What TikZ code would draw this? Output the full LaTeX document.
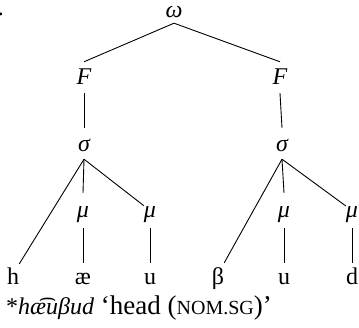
\documentclass[tikz,border=0pt]{standalone}
\usepackage{fontspec}
\setmainfont{Liberation Serif}
\newcommand{\mysc}[1]{{\fontsize{20}{22}\selectfont #1}}
\begin{document}
\begin{tikzpicture}[x=1pt,y=-1pt,
  every node/.style={inner sep=0pt, font=\fontsize{24}{28}\selectfont},
  wlab/.style={text height=12pt, text depth=5pt, anchor=base},
  flab/.style={text height=23pt, text depth=8pt, anchor=base},
  slab/.style={text height=24pt, text depth=7pt, anchor=base},
  mlab/.style={text height=25pt, text depth=10pt, anchor=base},
  seg/.style={text height=22pt, text depth=0pt, anchor=base},
  edge/.style={draw=black, line width=0.9pt}]
\useasboundingbox (0,0) rectangle (359,328);
\node[anchor=base] (dot) at (1,16) {.};
\node[wlab] (w) at (174,18) {\itshape ω};
\node[flab] (fl) at (84,85) {\itshape F};
\node[flab] (fr) at (280,85) {\itshape F};
\node[slab] (sl) at (84,152) {\itshape σ};
\node[slab] (sr) at (282,152) {\itshape σ};
\node[mlab] (m1) at (83,218) {\itshape μ};
\node[mlab] (m2) at (150,218) {\itshape μ};
\node[mlab] (m3) at (284,218) {\itshape μ};
\node[mlab] (m4) at (352,218) {\itshape μ};
\node[seg] (h) at (13,285) {h};
\node[seg] (ae) at (83,285) {æ};
\node[seg] (u1) at (150,285) {u};
\node[seg] (b) at (218,285) {β};
\node[seg] (u2) at (284,285) {u};
\node[seg] (d) at (352,285) {d};
\node[anchor=base west] (cap) at (6,315) {*\textit{hæ͡uβud}{\fontsize{27}{30}\selectfont{} ‘head (\mysc{NOM.SG})’}};
\draw[edge] (w.south) -- (fl.north);
\draw[edge] (w.south) -- (fr.north);
\draw[edge] (fl.south) -- (sl.north);
\draw[edge] (fr.south) -- (sr.north);
\draw[edge] (sl.south) -- (h);
\draw[edge] (sl.south) -- (m1.north);
\draw[edge] (sl.south) -- (m2);
\draw[edge] (sr.south) -- (b);
\draw[edge] (sr.south) -- (m3.north);
\draw[edge] (sr.south) -- (m4);
\draw[edge] (m1.south) -- (ae.north);
\draw[edge] (m2.south) -- (u1.north);
\draw[edge] (m3.south) -- (u2.north);
\draw[edge] (m4.south) -- (d.north);
\end{tikzpicture}
\end{document}
